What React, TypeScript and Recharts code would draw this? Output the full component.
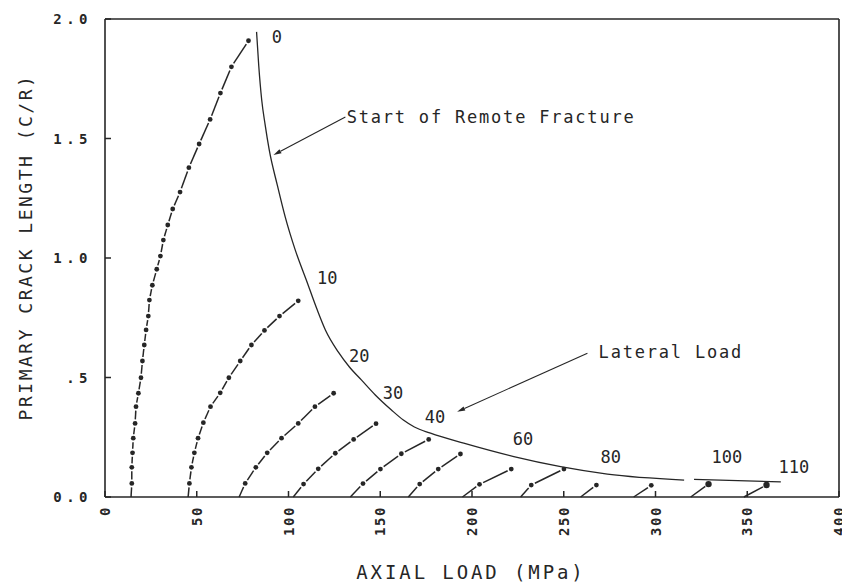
import { Line, LineChart, ReferenceDot, ReferenceLine, XAxis, YAxis } from "recharts";

type Pt = { x: number; y: number };

const INK = "#262626";
const FONT = "'DejaVu Sans Mono', 'Liberation Mono', monospace";

const X_TICKS = [0, 50, 100, 150, 200, 250, 300, 350, 400];
const Y_TICKS = [0, 0.5, 1, 1.5, 2];
const Y_TICK_LABELS: Record<number, string> = { 0: "0.0", 0.5: ".5", 1: "1.0", 1.5: "1.5", 2: "2.0" };

// crack growth paths (dash-dot curves), first point of each sits on the axis
const PATH_1: Pt[] = [
  { x: 14.2, y: 0 }, { x: 14.6, y: 0.057 }, { x: 14.6, y: 0.124 }, { x: 15.0, y: 0.185 },
  { x: 15.4, y: 0.246 }, { x: 16.4, y: 0.308 }, { x: 16.9, y: 0.378 }, { x: 18.2, y: 0.434 },
  { x: 19.6, y: 0.499 }, { x: 20.4, y: 0.569 }, { x: 21.4, y: 0.636 }, { x: 22.4, y: 0.699 },
  { x: 23.6, y: 0.757 }, { x: 24.2, y: 0.824 }, { x: 25.8, y: 0.886 }, { x: 28.2, y: 0.953 },
  { x: 30.2, y: 1.008 }, { x: 31.8, y: 1.075 }, { x: 34.2, y: 1.138 }, { x: 36.9, y: 1.205 },
  { x: 40.9, y: 1.276 }, { x: 45.7, y: 1.378 }, { x: 51.3, y: 1.477 }, { x: 57.3, y: 1.58 },
  { x: 62.9, y: 1.69 }, { x: 68.9, y: 1.8 }, { x: 78.2, y: 1.909 },
];
const PATH_2: Pt[] = [
  { x: 45.3, y: 0 }, { x: 46.0, y: 0.057 }, { x: 47.1, y: 0.124 }, { x: 48.7, y: 0.185 },
  { x: 50.7, y: 0.246 }, { x: 53.6, y: 0.311 }, { x: 57.5, y: 0.378 }, { x: 62.8, y: 0.436 },
  { x: 67.5, y: 0.499 }, { x: 73.7, y: 0.569 }, { x: 79.8, y: 0.636 }, { x: 86.9, y: 0.697 },
  { x: 95.1, y: 0.757 }, { x: 105.3, y: 0.821 },
];
const PATH_3: Pt[] = [
  { x: 73.1, y: 0 }, { x: 76.4, y: 0.057 }, { x: 82.2, y: 0.124 }, { x: 88.4, y: 0.185 },
  { x: 96.2, y: 0.246 }, { x: 105.3, y: 0.308 }, { x: 114.4, y: 0.378 }, { x: 124.6, y: 0.434 },
];
const PATH_4: Pt[] = [
  { x: 102.6, y: 0 }, { x: 108.2, y: 0.054 }, { x: 116.2, y: 0.118 }, { x: 125.5, y: 0.183 },
  { x: 135.5, y: 0.241 }, { x: 147.7, y: 0.307 },
];
const PATH_5: Pt[] = [
  { x: 133.7, y: 0 }, { x: 140.6, y: 0.056 }, { x: 150.1, y: 0.117 }, { x: 161.5, y: 0.181 },
  { x: 176.4, y: 0.241 },
];
const PATH_6: Pt[] = [{ x: 165.3, y: 0 }, { x: 171.5, y: 0.054 }, { x: 181.6, y: 0.117 }, { x: 193.7, y: 0.18 }];
const PATH_7: Pt[] = [{ x: 194.8, y: 0 }, { x: 204.1, y: 0.053 }, { x: 221.4, y: 0.117 }];
const PATH_8: Pt[] = [{ x: 226.5, y: 0 }, { x: 232.3, y: 0.05 }, { x: 250.1, y: 0.117 }];
const PATH_9: Pt[] = [{ x: 259.2, y: 0 }, { x: 267.8, y: 0.05 }];
const PATH_10: Pt[] = [{ x: 288.1, y: 0 }, { x: 297.7, y: 0.049 }];
const PATH_11: Pt[] = [{ x: 319.2, y: 0 }, { x: 328.9, y: 0.054 }];
const PATH_12: Pt[] = [{ x: 348.2, y: 0 }, { x: 360.5, y: 0.05 }];

const PATHS = [PATH_1, PATH_2, PATH_3, PATH_4, PATH_5, PATH_6, PATH_7, PATH_8, PATH_9, PATH_10];
const BIG_DOT_PATHS = [PATH_11, PATH_12];

// start of remote fracture locus
const REMOTE_FRACTURE: Pt[] = [
  { x: 82.6, y: 1.946 }, { x: 83.8, y: 1.803 }, { x: 85.4, y: 1.661 }, { x: 87.3, y: 1.556 },
  { x: 89.5, y: 1.452 }, { x: 93.9, y: 1.305 }, { x: 98.2, y: 1.172 }, { x: 103.7, y: 1.033 },
  { x: 109.7, y: 0.908 }, { x: 115.7, y: 0.782 }, { x: 120.1, y: 0.699 }, { x: 127.1, y: 0.607 },
  { x: 133.2, y: 0.544 }, { x: 139.7, y: 0.49 }, { x: 147.3, y: 0.427 }, { x: 156.1, y: 0.364 },
  { x: 162.6, y: 0.322 }, { x: 168.6, y: 0.293 }, { x: 177.4, y: 0.267 }, { x: 195.5, y: 0.225 },
  { x: 222.8, y: 0.169 }, { x: 248.3, y: 0.127 }, { x: 273.8, y: 0.096 }, { x: 315.6, y: 0.071 },
];
const REMOTE_FRACTURE_TAIL: Pt[] = [{ x: 321.0, y: 0.074 }, { x: 368.3, y: 0.063 }];

// lateral load labels along the locus
const LATERAL_LABELS = ["0", "10", "20", "30", "40", "60", "80", "100", "110"];
const LATERAL_X = [93.7, 121.1, 138.6, 156.9, 179.8, 227.8, 275.6, 338.9, 375.4];
const LATERAL_Y = [1.923, 0.916, 0.59, 0.435, 0.335, 0.243, 0.167, 0.167, 0.126];

const NOTES = [
  { text: "Start of Remote Fracture", x: 131.7, y: 1.591, from: { x: 131.0, y: 1.59 }, to: { x: 91.8, y: 1.431 } },
  { text: "Lateral Load", x: 269.0, y: 0.607, from: { x: 262.9, y: 0.601 }, to: { x: 191.9, y: 0.357 } },
];

// negative tick size = tick marks point into the plot
const TICK_IN = -6;

function DashDot(props: any) {
  const { cx, cy, index, points, payload, size } = props;
  const gap = 4;
  let seg = null;
  if (index > 0 && points && points[index - 1]) {
    const p = points[index - 1];
    const dx = cx - p.x;
    const dy = cy - p.y;
    const d = Math.hypot(dx, dy);
    const g0 = p.payload && p.payload.y === 0 ? 0 : gap;
    if (d > g0 + gap + 1) {
      const ux = dx / d;
      const uy = dy / d;
      seg = (
        <line
          x1={p.x + ux * g0}
          y1={p.y + uy * g0}
          x2={cx - ux * gap}
          y2={cy - uy * gap}
          stroke={INK}
          strokeWidth={1.5}
        />
      );
    }
  }
  return (
    <g>
      {seg}
      {payload && payload.y > 0 && <circle cx={cx} cy={cy} r={size ?? 2.4} fill={INK} />}
    </g>
  );
}

function ArrowShape(props: any) {
  const { x1, y1, x2, y2 } = props;
  const a = Math.atan2(y2 - y1, x2 - x1);
  const len = 8;
  const w = 2.2;
  const bx = x2 - len * Math.cos(a);
  const by = y2 - len * Math.sin(a);
  const px = -Math.sin(a) * w;
  const py = Math.cos(a) * w;
  return (
    <g>
      <line x1={x1} y1={y1} x2={bx} y2={by} stroke={INK} strokeWidth={1.1} />
      <polygon points={`${x2},${y2} ${bx + px},${by + py} ${bx - px},${by - py}`} fill={INK} />
    </g>
  );
}

// label position arrives at the inner end of the tick mark
function BottomTick({ x, y, payload }: any) {
  const ty = y - TICK_IN + 9;
  return (
    <text
      x={x}
      y={ty}
      transform={`rotate(-90 ${x} ${ty})`}
      textAnchor="end"
      dominantBaseline="central"
      fontFamily={FONT}
      fontWeight="bold"
      fontSize={14}
      letterSpacing={1.6}
      fill={INK}
    >
      {payload.value}
    </text>
  );
}

function LeftTick({ x, y, payload }: any) {
  return (
    <text
      x={x + TICK_IN - 13}
      y={y}
      textAnchor="end"
      dominantBaseline="central"
      fontFamily={FONT}
      fontWeight="bold"
      fontSize={14}
      letterSpacing={4.5}
      fill={INK}
    >
      {Y_TICK_LABELS[payload.value]}
    </text>
  );
}

function NoLabel() {
  return <g />;
}

function centerOf(viewBox: any) {
  return { cx: viewBox.x + (viewBox.width || 0) / 2, cy: viewBox.y + (viewBox.height || 0) / 2 };
}

const axisLine = { stroke: INK, strokeWidth: 1.6 };
const tickLine = { stroke: INK, strokeWidth: 1.5 };

export default function App() {
  return (
    <div style={{ position: "absolute", left: 0, top: 0, background: "#fff" }}>
      <LineChart width={842} height={584} margin={{ top: 18, right: 2, bottom: 0, left: 0 }}>
        <XAxis
          type="number"
          dataKey="x"
          domain={[0, 400]}
          ticks={X_TICKS}
          height={87}
          tickSize={TICK_IN}
          tickMargin={0}
          tickLine={tickLine}
          tick={(p: any) => <BottomTick {...p} />}
          interval={0}
          axisLine={axisLine}
          label={{
            content: ({ viewBox }: any) => (
              <text
                x={viewBox.x + viewBox.width / 2 - 1}
                y={viewBox.y + 75}
                textAnchor="middle"
                dominantBaseline="central"
                fontFamily={FONT}
                fontSize={19}
                letterSpacing={2.9}
                fill={INK}
              >
                AXIAL LOAD (MPa)
              </text>
            ),
          }}
        />
        <XAxis
          xAxisId="top"
          orientation="top"
          type="number"
          dataKey="x"
          domain={[0, 400]}
          ticks={X_TICKS}
          height={1}
          tickSize={-5}
          tickMargin={0}
          tickLine={tickLine}
          tick={(p: any) => <NoLabel {...p} />}
          interval={0}
          axisLine={axisLine}
        />
        <YAxis
          type="number"
          domain={[0, 2]}
          ticks={Y_TICKS}
          width={105}
          tickSize={TICK_IN}
          tickMargin={0}
          tickLine={tickLine}
          tick={(p: any) => <LeftTick {...p} />}
          interval={0}
          axisLine={axisLine}
          label={{
            content: ({ viewBox }: any) => (
              <text
                x={25}
                y={viewBox.y + 228}
                transform={`rotate(-90 25 ${viewBox.y + 228})`}
                textAnchor="middle"
                dominantBaseline="central"
                fontFamily={FONT}
                fontSize={18}
                letterSpacing={2.5}
                fill={INK}
              >
                PRIMARY CRACK LENGTH (C/R)
              </text>
            ),
          }}
        />
        <YAxis
          yAxisId="right"
          orientation="right"
          type="number"
          domain={[0, 2]}
          ticks={Y_TICKS}
          width={1}
          tickSize={TICK_IN}
          tickMargin={0}
          tickLine={tickLine}
          tick={(p: any) => <NoLabel {...p} />}
          interval={0}
          axisLine={axisLine}
        />

        <Line
          data={REMOTE_FRACTURE}
          dataKey="y"
          name="remote"
          type="monotone"
          stroke={INK}
          strokeWidth={1.3}
          dot={false}
          activeDot={false}
          isAnimationActive={false}
        />
        <Line
          data={REMOTE_FRACTURE_TAIL}
          dataKey="y"
          name="remote-tail"
          type="linear"
          stroke={INK}
          strokeWidth={1.3}
          dot={false}
          activeDot={false}
          isAnimationActive={false}
        />

        {PATHS.map((d, i) => (
          <Line
            key={`p${i}`}
            data={d}
            dataKey="y"
            name={`path${i + 1}`}
            type="linear"
            stroke="none"
            dot={(p: any) => <DashDot key={`d${i}-${p.index}`} {...p} />}
            activeDot={false}
            isAnimationActive={false}
          />
        ))}
        {BIG_DOT_PATHS.map((d, i) => (
          <Line
            key={`b${i}`}
            data={d}
            dataKey="y"
            name={`pathb${i + 1}`}
            type="linear"
            stroke="none"
            dot={(p: any) => <DashDot key={`b${i}-${p.index}`} {...p} size={3.2} />}
            activeDot={false}
            isAnimationActive={false}
          />
        ))}

        {LATERAL_LABELS.map((t, i) => (
          <ReferenceDot
            key={`l${t}`}
            x={LATERAL_X[i]}
            y={LATERAL_Y[i]}
            r={1}
            fill="none"
            stroke="none"
            label={{
              content: ({ viewBox }: any) => {
                const { cx, cy } = centerOf(viewBox);
                return (
                  <text x={cx} y={cy} textAnchor="middle" dominantBaseline="central" fontFamily={FONT} fontSize={17} fill={INK}>
                    {t}
                  </text>
                );
              },
            }}
          />
        ))}

        {NOTES.map((n) => (
          <ReferenceLine key={`a${n.text}`} segment={[n.from, n.to]} shape={(p: any) => <ArrowShape {...p} />} />
        ))}
        {NOTES.map((n) => (
          <ReferenceDot
            key={`n${n.text}`}
            x={n.x}
            y={n.y}
            r={1}
            fill="none"
            stroke="none"
            label={{
              content: ({ viewBox }: any) => {
                const { cx, cy } = centerOf(viewBox);
                return (
                  <text x={cx} y={cy} textAnchor="start" dominantBaseline="central" fontFamily={FONT} fontSize={17} letterSpacing={1.8} fill={INK}>
                    {n.text}
                  </text>
                );
              },
            }}
          />
        ))}
      </LineChart>
    </div>
  );
}
